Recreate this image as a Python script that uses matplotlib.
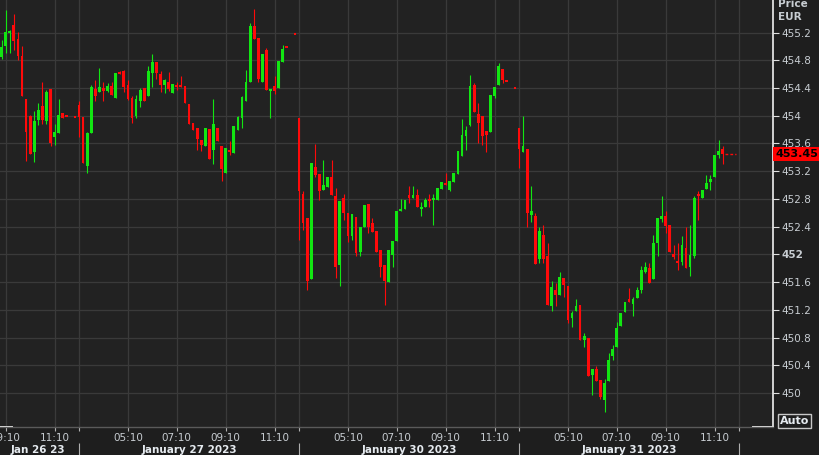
import matplotlib.pyplot as plt
import numpy as np

# 10-minute candles, one slot per bar; each session is 54 slots (03:10 - 12:00)
# None = no bar in that slot
jan26_start = -19
jan26_open = [454.85, 455.00, 455.19, 455.31, 455.11, 454.86, 454.24, 453.99, 453.48, 453.94,
              454.14, 453.93, 454.38, 453.69, 453.75, 454.04, 454.00, None, 453.98]
jan26_high = [455.09, 455.53, 455.24, 455.47, 455.21, 455.01, 454.24, 454.01, 454.07, 454.18,
              454.48, 454.37, 454.38, 453.88, 454.24, 454.04, 454.00, None, 453.98]
jan26_low = [454.82, 454.91, 454.90, 454.95, 454.81, 454.29, 453.35, 453.45, 453.34, 453.87,
             453.88, 453.88, 453.56, 453.58, 453.75, 453.97, 454.00, None, 453.98]
jan26_close = [454.99, 455.21, 455.22, 455.08, 454.86, 454.29, 453.76, 453.45, 453.92, 454.09,
               453.94, 454.35, 453.61, 453.77, 454.01, 453.97, 454.00, None, 453.98]

jan27_start = 0
jan27_open = [454.15, 453.98, 453.28, 453.75, 454.38, 454.35, 454.40, 454.36, 454.43, 454.26,
              454.63, 454.65, 454.45, 454.25, 453.99, 454.21, 454.40, 454.29, 454.62, 454.77,
              454.60, 454.45, 454.48, 454.33, 454.44, 454.43, 454.43, 454.17, 453.90, 453.83,
              453.65, 453.57, 453.81, 453.50, 453.83, 453.57, 453.17, 453.51, 453.46, 453.79,
              453.97, 454.21, 454.49, 455.29, 455.12, 454.48, 454.95, 454.36, 454.43, 454.40,
              454.78, 454.99, None, 455.18]
jan27_high = [454.22, 453.98, 453.77, 454.45, 454.52, 454.69, 454.49, 454.47, 454.49, 454.62,
              454.65, 454.66, 454.52, 454.28, 454.30, 454.40, 454.40, 454.72, 454.89, 454.78,
              454.64, 454.53, 454.63, 454.46, 454.49, 454.57, 454.43, 454.17, 453.90, 453.83,
              453.65, 453.82, 453.81, 454.24, 453.83, 453.57, 453.53, 453.63, 453.85, 454.00,
              454.28, 454.66, 455.34, 455.54, 455.12, 454.89, 454.98, 454.38, 454.57, 454.79,
              455.02, 454.99, None, 455.18]
jan27_low = [453.70, 453.32, 453.18, 453.75, 454.21, 454.35, 454.22, 454.34, 454.30, 454.26,
             454.60, 454.35, 454.23, 453.90, 453.97, 454.13, 454.21, 454.29, 454.42, 454.53,
             454.35, 454.33, 454.36, 454.33, 454.37, 454.42, 454.18, 453.88, 453.80, 453.51,
             453.49, 453.57, 453.38, 453.30, 453.64, 453.06, 453.17, 453.43, 453.46, 453.79,
             453.83, 454.21, 454.49, 455.11, 454.48, 454.48, 454.37, 453.97, 454.31, 454.40,
             454.78, 454.99, None, 455.18]
jan27_close = [453.98, 453.32, 453.75, 454.41, 454.28, 454.41, 454.36, 454.43, 454.30, 454.62,
               454.60, 454.42, 454.24, 453.97, 454.24, 454.37, 454.21, 454.64, 454.78, 454.62,
               454.44, 454.51, 454.39, 454.46, 454.43, 454.42, 454.18, 453.88, 453.80, 453.66,
               453.58, 453.82, 453.38, 453.88, 453.64, 453.23, 453.53, 453.48, 453.85, 453.98,
               454.27, 454.49, 455.30, 455.11, 454.53, 454.89, 454.37, 454.38, 454.36, 454.79,
               454.97, 454.99, None, 455.18]

jan30_start = 54
jan30_open = [453.97, 452.87, 452.53, 451.65, 453.26, 453.16, 452.93, 452.97, 453.11, 452.84,
              451.85, 452.81, 452.60, 452.27, 452.54, 452.03, 452.40, 452.73, 452.46, 452.34,
              452.07, 451.85, 451.60, 451.99, 452.20, 452.62, 452.65, 452.85, 452.81, 452.86,
              452.65, 452.68, 452.79, 452.78, 452.78, 452.94, 453.03, 452.93, 453.05, 453.16,
              453.42, 453.71, 453.87, 454.45, 454.03, 453.99, 453.78, 453.77, 454.29, 454.45,
              454.67, 454.50, None, 454.40]
jan30_high = [453.97, 452.91, 452.53, 453.32, 453.59, 453.16, 453.36, 453.11, 453.36, 452.96,
              452.77, 452.87, 452.60, 452.59, 452.54, 452.40, 452.71, 452.73, 452.52, 452.34,
              452.07, 451.85, 452.07, 452.20, 452.63, 452.80, 452.78, 452.98, 452.98, 452.94,
              452.76, 452.81, 452.87, 452.87, 452.96, 453.04, 453.17, 453.06, 453.18, 453.49,
              453.96, 453.85, 454.59, 454.47, 454.19, 453.99, 453.78, 454.30, 454.41, 454.76,
              454.67, 454.50, None, 454.40]
jan30_low = [452.21, 452.35, 451.48, 451.65, 453.12, 452.78, 452.93, 452.97, 452.86, 451.66,
             451.55, 452.49, 452.18, 452.21, 451.98, 451.97, 452.40, 452.31, 452.33, 452.03,
             451.67, 451.27, 451.60, 451.82, 452.20, 452.62, 452.65, 452.74, 452.81, 452.69,
             452.55, 452.68, 452.69, 452.42, 452.78, 452.94, 453.00, 452.91, 453.05, 453.16,
             453.42, 453.51, 453.85, 454.06, 453.60, 453.58, 453.48, 453.77, 454.26, 454.45,
             454.47, 454.50, None, 454.40]
jan30_close = [452.91, 452.46, 451.61, 453.32, 453.15, 452.91, 453.00, 453.11, 452.86, 451.82,
               452.77, 452.60, 452.26, 452.59, 452.02, 452.40, 452.71, 452.40, 452.33, 452.03,
               451.82, 451.61, 452.07, 452.20, 452.63, 452.65, 452.78, 452.81, 452.86, 452.69,
               452.69, 452.78, 452.78, 452.82, 452.96, 453.04, 453.00, 453.06, 453.18, 453.49,
               453.72, 453.80, 454.43, 454.06, 453.89, 453.71, 453.72, 454.30, 454.41, 454.72,
               454.52, 454.50, None, 454.40]

jan31_start = 108
jan31_open = [453.82, 453.48, 453.52, 452.57, 452.56, 451.93, 452.28, 451.97, 451.25, 451.49,
              451.42, 451.66, 451.55, 451.08, 451.19, 451.27, 450.76, 450.79, 450.26, 450.35,
              450.19, 449.90, 450.17, 450.53, 450.67, 450.96, 451.17, 451.35, 451.29, 451.37,
              451.48, 451.75, 451.80, 451.64, 452.16, 452.51, 452.56, 452.43, 452.01, 451.91,
              451.89, 452.09, 451.82, 451.98, 452.87, 452.82, 452.94, 453.05, 453.12, 453.44,
              453.52]
jan31_high = [453.82, 453.99, 453.52, 452.99, 452.60, 452.40, 452.42, 452.17, 451.61, 451.59,
              451.75, 451.66, 451.55, 451.19, 451.35, 451.27, 450.86, 450.79, 450.35, 450.39,
              450.19, 450.20, 450.58, 450.70, 451.02, 451.15, 451.31, 451.51, 451.39, 451.53,
              451.83, 451.89, 451.87, 452.28, 452.52, 452.84, 452.62, 452.43, 452.14, 452.17,
              452.27, 452.39, 452.43, 452.84, 452.91, 452.93, 453.14, 453.14, 453.44, 453.65,
              453.56]
jan31_low = [453.24, 453.48, 452.39, 452.47, 451.86, 451.87, 451.87, 451.27, 451.19, 451.25,
             451.42, 451.39, 451.01, 450.95, 451.19, 450.76, 450.67, 450.25, 449.97, 450.18,
             449.91, 449.73, 450.17, 450.47, 450.67, 450.96, 451.17, 451.31, 451.11, 451.37,
             451.45, 451.73, 451.59, 451.64, 451.98, 452.47, 452.31, 452.03, 451.93, 451.77,
             451.84, 451.80, 451.69, 451.95, 452.49, 452.82, 452.94, 452.93, 453.12, 453.39,
             453.31]
jan31_close = [453.52, 453.57, 452.60, 452.63, 451.86, 452.34, 451.93, 451.27, 451.53, 451.42,
               451.68, 451.56, 451.06, 451.15, 451.26, 450.76, 450.82, 450.25, 450.35, 450.18,
               449.94, 450.14, 450.48, 450.63, 450.94, 451.15, 451.31, 451.31, 451.35, 451.49,
               451.78, 451.82, 451.59, 452.17, 452.52, 452.56, 452.41, 452.03, 451.96, 451.87,
               452.13, 451.80, 451.99, 452.82, 452.84, 452.93, 453.03, 453.09, 453.44, 453.49,
               453.45]

last_price = 453.45
price_ticks = [450, 450.4, 450.8, 451.2, 451.6, 452, 452.4, 452.8, 453.2, 453.6, 454, 454.4, 454.8, 455.2]
session_starts = [-54, 0, 54, 108, 162]
time_offsets = [12, 24, 36, 48]
time_labels = ["05:10", "07:10", "09:10", "11:10"]
date_labels = ["Jan 26 23", "January 27 2023", "January 30 2023", "January 31 2023"]
date_label_pos = [-10, 27, 81, 135]

UP = '#12e612'
DOWN = '#ff0a0a'
BG = '#222222'
FIG_BG = '#1e1e1e'
GRID = '#3a3a3a'
TXT = '#c8cdd2'

W, H = 819, 455
fig = plt.figure(figsize=(W / 100, H / 100), dpi=100, facecolor=FIG_BG)
ax = fig.add_axes([0, 28 / H, 773 / W, 427 / H])
ax.set_facecolor(BG)


def draw_session(start, o, h, l, c):
    for i in range(len(o)):
        if o[i] is None:
            continue
        x = start + i
        col = UP if c[i] > o[i] else DOWN
        ax.vlines(x, l[i], h[i], color=col, lw=0.8, zorder=3)
        lo, hi = min(o[i], c[i]), max(o[i], c[i])
        if hi - lo < 0.03:
            mid = (hi + lo) / 2
            lo, hi = mid - 0.015, mid + 0.015
        ax.bar(x, hi - lo, bottom=lo, width=0.68, color=col, lw=0, zorder=3)


draw_session(jan26_start, jan26_open, jan26_high, jan26_low, jan26_close)
draw_session(jan27_start, jan27_open, jan27_high, jan27_low, jan27_close)
draw_session(jan30_start, jan30_open, jan30_high, jan30_low, jan30_close)
draw_session(jan31_start, jan31_open, jan31_high, jan31_low, jan31_close)

# last price marker
ax.hlines(last_price, 158.6, 161.3, colors=DOWN, linestyles=(0, (2, 1.5)), lw=1, zorder=3)
ax.text(1.003, last_price, f"{last_price:.2f}", transform=ax.get_yaxis_transform(),
        ha='left', va='center', fontsize=8, fontweight='bold', color='black', clip_on=False,
        bbox=dict(facecolor='#ff0000', edgecolor='none', boxstyle='square,pad=0.18'), zorder=5)

# y axis on the right
ax.yaxis.tick_right()
ax.set_yticks(price_ticks, [f"{t:g}" for t in price_ticks])
for lab in ax.get_yticklabels():
    if lab.get_text() == "452":
        lab.set_fontweight('bold')
ax.tick_params(axis='y', colors='#e0e0e0', labelcolor=TXT, length=4, width=0.8, pad=2, labelsize=7.5)

# x axis: time ticks and session separators
xt, xl = [], []
for s in session_starts[:-1]:
    for off, lab in zip(time_offsets, time_labels):
        xt.append(s + off)
        xl.append(lab)
ax.set_xticks(xt, xl)
ax.set_xticks(session_starts, minor=True)
ax.tick_params(axis='x', which='both', colors='#b0b0b0', labelcolor=TXT, length=3, width=0.8,
               pad=1.5, labelsize=7.5)

# limits after the ticks (set_ticks would widen the view)
ax.set_xlim(-19.4, 170.35)
ax.set_ylim(449.51, 455.67)

ax.vlines(session_starts[1:], -0.037, -0.08, transform=ax.get_xaxis_transform(), clip_on=False,
          color='#b0b0b0', lw=0.8)
for lab, xp in zip(date_labels, date_label_pos):
    ax.text(xp, -0.054, lab, transform=ax.get_xaxis_transform(), ha='center', va='center',
            fontsize=7.5, fontweight='bold', color='#e6ebf0')

ax.grid(True, which='both', color=GRID, lw=0.9)
ax.set_axisbelow(True)

for side in ['top', 'left']:
    ax.spines[side].set_visible(False)
ax.spines['right'].set_color('#f0f0f0')
ax.spines['right'].set_linewidth(1.2)
ax.spines['bottom'].set_color('#5a5a5a')
ax.spines['bottom'].set_linewidth(1)
ax.plot([0, 12 / 773], [0, 0], transform=ax.transAxes, color='#f0f0f0', lw=1.4, clip_on=False)
ax.plot([753 / 773, 1], [0, 0], transform=ax.transAxes, color='#f0f0f0', lw=1.4, clip_on=False)

# header and auto button
fig.text(778 / W, 1 - 4 / H, "Price", ha='left', va='center', fontsize=7.5, fontweight='bold', color=TXT)
fig.text(778 / W, 1 - 17 / H, "EUR", ha='left', va='center', fontsize=7.5, fontweight='bold', color=TXT)
fig.text(794.5 / W, 1 - 421 / H, "Auto", ha='center', va='center', fontsize=8, fontweight='bold',
         color='#e6ebf0', bbox=dict(facecolor=FIG_BG, edgecolor='#c8c8c8', lw=1, boxstyle='square,pad=0.15'))

fig.savefig('out.png', dpi=100, facecolor=FIG_BG)
